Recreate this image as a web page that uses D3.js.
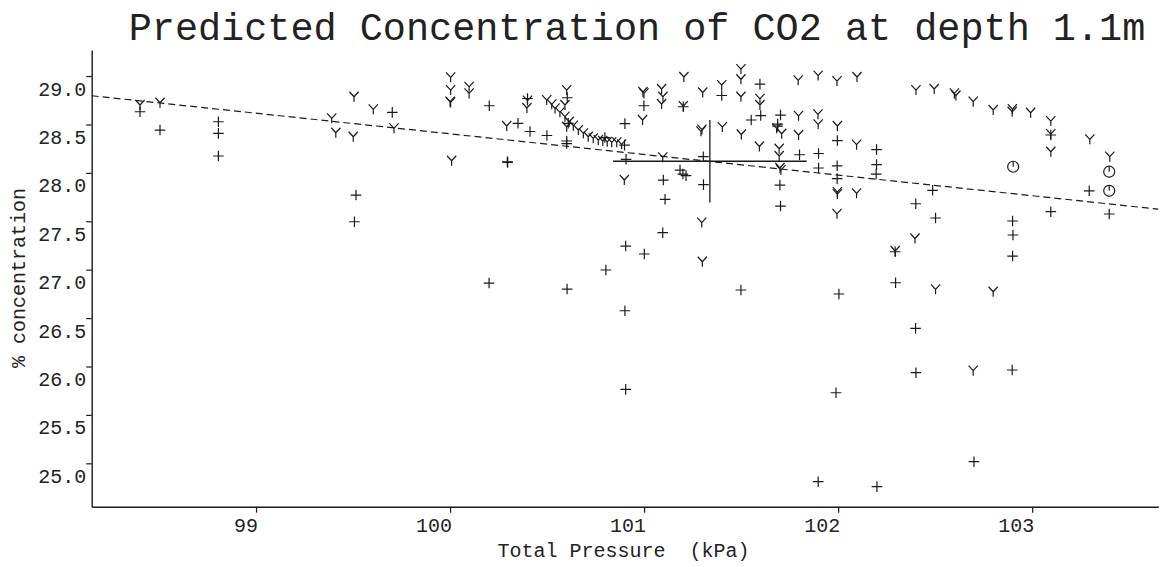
<!DOCTYPE html>
<html>
<head>
<meta charset="utf-8">
<script src="https://cdn.jsdelivr.net/npm/d3@7"></script>
<style>
  body { margin: 0; background: #fff; }
  text { font-family: "Liberation Mono", "DejaVu Sans Mono", monospace; fill: #222; white-space: pre; }
</style>
</head>
<body>
<svg id="chart" width="1168" height="567"></svg>
<script>
// Measured concentrations (plotted as "+")
const measuredPressure = [98.402, 98.505, 98.806, 98.806, 98.806, 99.702, 99.515, 99.507, 100.202, 100.350,
  100.412, 100.295, 100.297, 100.399, 100.499, 100.604, 100.609, 100.601, 100.601, 100.798,
  100.899, 100.901, 100.907, 100.999, 101.099, 101.108, 101.096, 101.202, 101.185, 101.200,
  101.216, 101.305, 101.306, 101.400, 101.597, 101.601, 101.552, 101.703, 101.688, 101.688,
  101.700, 101.703, 101.801, 101.899, 101.899, 101.996, 101.995, 101.995, 102.198, 102.198,
  102.196, 102.487, 102.400, 102.502, 103.096, 103.096, 103.294, 103.397, 102.899, 102.901,
  102.899, 102.294, 102.296, 102.399, 102.401, 102.897, 102.700, 102.200, 101.897, 101.989,
  102.004, 101.499, 100.905, 100.901, 100.803, 100.905, 101.001, 100.603, 100.201];
const measuredConc = [28.631, 28.442, 28.528, 28.408, 28.174, 28.625, 27.771, 27.495, 28.693, 28.512,
  28.427, 28.115, 28.108, 28.768, 28.386, 28.776, 28.512, 28.329, 28.303, 28.365,
  28.287, 28.509, 28.140, 28.693, 27.926, 27.727, 27.382, 28.683, 28.029, 27.988,
  27.972, 28.167, 27.879, 28.799, 28.917, 28.592, 28.546, 28.597, 28.504, 28.483,
  27.874, 27.657, 28.187, 28.200, 28.050, 28.334, 28.073, 27.941, 28.241, 28.086,
  27.988, 27.820, 27.681, 27.534, 28.391, 27.599, 27.815, 27.575, 27.503, 27.358,
  27.141, 27.185, 26.865, 26.394, 25.936, 25.964, 25.017, 24.759, 24.810, 25.729,
  26.749, 26.790, 25.764, 26.576, 26.997, 27.244, 27.162, 26.800, 26.862];

// Predicted concentrations (plotted as "Y")
const predictedPressure = [98.402, 98.505, 99.505, 99.390, 99.411, 99.501, 99.604, 99.711, 100.003, 100.003,
  100.000, 100.003, 100.008, 100.098, 100.098, 100.292, 100.399, 100.396,
  100.498, 100.524, 100.541, 100.566, 100.592, 100.614, 100.635, 100.661, 100.687, 100.712,
  100.738, 100.764, 100.787, 100.810, 100.833, 100.859, 100.884,
  100.601, 100.592, 100.601, 100.898, 100.992, 100.999, 100.994, 101.090, 101.097, 101.090,
  101.096, 101.205, 101.202, 101.297, 101.302, 101.293, 101.298, 101.400, 101.403, 101.499,
  101.499, 101.499, 101.501, 101.597, 101.597, 101.594, 101.683, 101.709, 101.696, 101.696,
  101.700, 101.705, 101.794, 101.796, 101.796, 101.897, 101.896, 101.897, 101.994, 101.996,
  101.996, 101.996, 101.994, 102.097, 102.095, 102.095, 102.401, 102.495, 102.599, 102.607,
  102.696, 102.799, 102.897, 102.898, 102.992, 103.096, 103.096, 103.096, 103.297, 103.400,
  102.396, 102.294, 102.502, 102.799, 102.696, 101.300];
const predictedConc = [28.701, 28.724, 28.786, 28.563, 28.414, 28.373, 28.656, 28.460, 28.987, 28.855,
  28.735, 28.728, 28.125, 28.889, 28.821, 28.484, 28.747, 28.670,
  28.752, 28.708, 28.666, 28.625, 28.580, 28.528, 28.487, 28.442, 28.408, 28.373,
  28.357, 28.339, 28.329, 28.321, 28.315, 28.315, 28.295,
  28.855, 28.701, 28.476, 27.926, 28.546, 28.821, 28.835, 28.866, 28.786, 28.711,
  28.160, 28.990, 28.690, 27.487, 28.830, 28.429, 28.447, 28.907, 28.473, 29.072,
  28.967, 28.786, 28.396, 28.765, 28.701, 28.272, 28.460, 28.404, 28.249, 28.174,
  28.050, 28.029, 28.956, 28.589, 28.391, 29.005, 28.605, 28.501, 28.948, 28.484,
  27.802, 27.781, 27.577, 28.990, 28.291, 27.789, 28.855, 28.866, 28.821, 28.799,
  28.735, 28.649, 28.631, 28.659, 28.621, 28.535, 28.401, 28.218, 28.346, 28.167,
  27.322, 27.193, 26.797, 26.772, 25.957, 27.082];

// Flagged readings (plotted as circled marks)
const flaggedPressure = [102.902, 103.397, 103.397];
const flaggedConc = [28.063, 28.012, 27.815];

// Least-squares fit of concentration on pressure
const fitIntercept = 49.713;
const fitSlope = -0.2131;

// Mean and spread of all readings
const meanPressure = 101.339;
const meanConc = 28.12;
const sdPressure = 0.499;
const sdConc = 0.426;

const xTicks = [99, 100, 101, 102, 103];
const yTicks = [25.0, 25.5, 26.0, 26.5, 27.0, 27.5, 28.0, 28.5, 29.0];

const titleText = "Predicted Concentration of CO2 at depth 1.1m";
const xTitle = "Total Pressure  (kPa)";
const yTitle = "% concentration";

const svg = d3.select("#chart");
const ink = "#1a1a1a";

const x = d3.scaleLinear().domain([98.153, 103.65]).range([91.7, 1158.3]);
const y = d3.scaleLinear().domain([24.552, 29.269]).range([506.7, 50]);

// Axes
const yAxis = svg.append("g")
  .attr("transform", `translate(${x.range()[0]},0)`)
  .call(d3.axisLeft(y).tickValues(yTicks).tickSize(5.5).tickSizeOuter(0).tickFormat(d3.format(".1f")));
const xAxis = svg.append("g")
  .attr("transform", `translate(0,${y.range()[0]})`)
  .call(d3.axisBottom(x).tickValues(xTicks).tickSize(6).tickSizeOuter(0).tickFormat(d3.format("d")));

[yAxis, xAxis].forEach(g => {
  g.attr("font-family", null).attr("font-size", null);
  g.select(".domain").attr("stroke", ink).attr("stroke-width", 1.4);
  g.selectAll(".tick line").attr("stroke", ink).attr("stroke-width", 1.2);
  g.selectAll(".tick text").attr("fill", "#222").style("font-size", "20px");
});
yAxis.selectAll(".tick text").attr("x", -5.5).attr("y", 19).attr("dy", null).attr("text-anchor", "end");
xAxis.selectAll(".tick text").attr("x", 1.5).attr("y", 25).attr("dy", null).attr("text-anchor", "end");

// Fitted line, dashed across the full pressure range
const [x0, x1] = x.domain();
svg.append("line")
  .attr("x1", x(x0)).attr("y1", y(fitIntercept + fitSlope * x0))
  .attr("x2", x(x1)).attr("y2", y(fitIntercept + fitSlope * x1))
  .attr("stroke", ink).attr("stroke-width", 1.2).attr("stroke-dasharray", "7,4");

// Mean +/- one standard deviation cross
svg.append("line")
  .attr("x1", x(meanPressure - sdPressure)).attr("x2", x(meanPressure + sdPressure))
  .attr("y1", y(meanConc)).attr("y2", y(meanConc))
  .attr("stroke", ink).attr("stroke-width", 1.3);
svg.append("line")
  .attr("x1", x(meanPressure)).attr("x2", x(meanPressure))
  .attr("y1", y(meanConc + sdConc)).attr("y2", y(meanConc - sdConc))
  .attr("stroke", ink).attr("stroke-width", 1.3);

// Marker glyphs
const plusGlyph = "M-5.3,0H5.3M0,-5.3V5.3";
const yGlyph = "M-4.6,-5L0,0L4.6,-5M0,0V5";
const zip = (a, b) => a.map((v, i) => ({ p: v, c: b[i] }));

function drawMarks(data, glyph) {
  svg.append("g").selectAll("path").data(data).join("path")
    .attr("transform", d => `translate(${x(d.p)},${y(d.c)})`)
    .attr("d", glyph)
    .attr("fill", "none").attr("stroke", ink).attr("stroke-width", 1.2);
}
drawMarks(zip(measuredPressure, measuredConc), plusGlyph);
drawMarks(zip(predictedPressure, predictedConc), yGlyph);

const flagged = svg.append("g").selectAll("g").data(zip(flaggedPressure, flaggedConc)).join("g")
  .attr("transform", d => `translate(${x(d.p)},${y(d.c)})`);
flagged.append("circle").attr("r", 5.5).attr("fill", "none").attr("stroke", ink).attr("stroke-width", 1.2);
flagged.append("path").attr("d", "M0,-5.5V0").attr("stroke", ink).attr("stroke-width", 1.2);

// Titles
svg.append("text").attr("x", 637).attr("y", 40).attr("text-anchor", "middle")
  .style("font-size", "38.5px").text(titleText);
svg.append("text").attr("x", 623.5).attr("y", 556.5).attr("text-anchor", "middle")
  .style("font-size", "20px").text(xTitle);
svg.append("text").attr("transform", "translate(25,278) rotate(-90)").attr("text-anchor", "middle")
  .style("font-size", "20px").text(yTitle);
</script>
</body>
</html>
